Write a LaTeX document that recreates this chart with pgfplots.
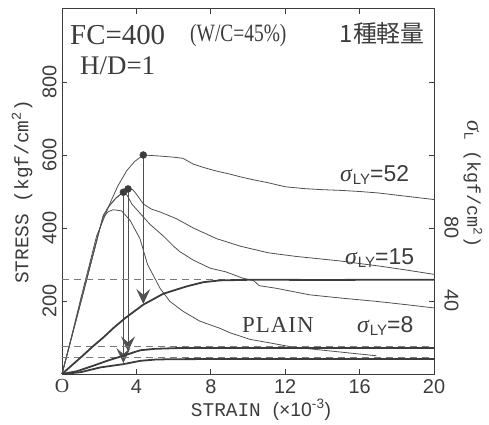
\documentclass[border=0pt]{standalone}
\usepackage{pgfplots}
\pgfplotsset{compat=1.18}
\usepackage{fontspec}
\usepackage{graphicx}
\usetikzlibrary{arrows.meta}
\setmainfont{Liberation Serif}
\newfontfamily\monofont{Liberation Mono}
\newfontfamily\sansfont{Liberation Sans}
\newfontfamily\cjk{Noto Sans CJK JP}
\definecolor{ink}{HTML}{505050}
\definecolor{inkd}{HTML}{3C3C3C}
\definecolor{dashc}{HTML}{7A7A7A}
\newcommand{\siglab}[2]{{\fontsize{24}{24}\selectfont\itshape σ}\kern1bp\raisebox{-3bp}{\sansfont\fontsize{15}{15}\selectfont #1}{\sansfont\fontsize{23}{23}\selectfont =#2}}

\begin{document}
\begin{tikzpicture}
\useasboundingbox (-62bp,-51bp) rectangle (427bp,374bp);
\begin{axis}[
  at={(0,0)}, anchor=south west, scale only axis,
  width=372bp, height=365bp,
  xmin=0, xmax=20, ymin=0, ymax=1000,
  axis line style={inkd, line width=1bp},
  tick align=inside, major tick length=5bp,
  tick style={inkd, line width=0.8bp},
  xtick={0,4,8,12,16,20}, xticklabels={{\rmfamily O},4,8,12,16,20},
  xtick pos=both,
  ytick={200,400,600,800}, ytick pos=left,
  /pgf/number format/assume math mode=true,
  tick label style={font=\sansfont\fontsize{20}{20}\selectfont, text=inkd},
  xticklabel style={yshift=-2bp},
  yticklabel style={rotate=90, anchor=south},
  yticklabel shift=2bp,
  clip=false,
]
% sigma_LY = 52 (thin stress-strain)
\addplot[ink, line width=0.8bp] coordinates {
(0,0)(0.5,100)(1.0,205)(1.5,305)(1.86,378)(2.2,420)(2.6,470)(3.0,515)(3.48,557)(3.9,582)(4.37,600)
(5.3,597)(6.0,594)(6.5,591)(7.06,575)(7.6,566)(8.3,556)(9.0,548)(9.6,540)(10.3,532)(11,525)
(12,513)(13,508)(14,505)(15,503)(16,500)(17,496)(18,490)(19,484)(20,478)};
% sigma_LY = 15
\addplot[ink, line width=0.8bp] coordinates {
(0,0)(1.0,195)(2.0,392)(2.22,434)(2.5,458)(2.9,482)(3.3,498)(3.55,507)(3.8,505)(4.0,493)(4.37,466)
(4.8,452)(5.27,444)(6.17,425)(7.06,400)(8.3,371)(9.6,350)(11.1,332)(12.6,322)(14.9,310)
(17.3,294)(18.5,285)(20,273)};
% sigma_LY = 8
\addplot[ink, line width=0.8bp] coordinates {
(0,0)(1.0,195)(2.0,392)(2.22,434)(2.5,458)(2.9,482)(3.3,498)(3.5,490)(3.75,466)(4.2,440)(4.73,410)
(5.45,378)(6.0,350)(6.34,335)(7.06,312)(7.96,290)(8.8,280)(9.75,262)(10.3,256)(10.6,242)
(11.5,235)(13.3,217)(15,208)(16.9,199)(18.5,190)(20,181)};
% plain
\addplot[ink, line width=0.8bp] coordinates {
(0,0)(1.0,195)(2.0,392)(2.22,430)(2.5,445)(2.76,450)(3.2,447)(3.66,421)(4.19,371)(4.6,300)
(5.27,235)(5.8,199)(6.5,172)(7.4,145)(8.5,125)(9.03,113)(10.1,95)(11.2,85)(12.26,75)
(13.5,68)(15,60)(16.9,50)};
% arrows from peaks to lateral stress curves
\addplot[ink, line width=0.8bp, -{Stealth[length=15bp,width=14bp,inset=6bp]}] coordinates {(4.37,600)(4.37,192)};
\addplot[ink, line width=0.8bp, -{Stealth[length=15bp,width=14bp,inset=6bp]}] coordinates {(3.55,507)(3.55,62)};
\addplot[ink, line width=0.8bp, -{Stealth[length=15bp,width=14bp,inset=6bp]}] coordinates {(3.3,498)(3.3,30)};
% peak dots
\addplot[only marks, mark=*, mark size=3.5bp, inkd] coordinates {(4.37,600)(3.3,498)(3.55,507)};
\end{axis}

\begin{axis}[
  at={(0,0)}, anchor=south west, scale only axis,
  width=372bp, height=365bp,
  xmin=0, xmax=20, ymin=0, ymax=200,
  hide x axis,
  axis y line*=right,
  axis line style={inkd, line width=1bp},
  tick align=inside, major tick length=5bp,
  tick style={inkd, line width=0.8bp},
  ytick={40,80,120,160}, yticklabels={40,80,,},
  /pgf/number format/assume math mode=true,
  tick label style={font=\sansfont\fontsize{20}{20}\selectfont, text=inkd},
  yticklabel style={rotate=-90, anchor=south},
  yticklabel shift=7bp,
  clip=false,
]
% sigma_LY levels (dashed)
\addplot[dashc, line width=0.6bp, dash pattern=on 7bp off 5bp] coordinates {(0,52)(20,52)};
\addplot[dashc, line width=0.6bp, dash pattern=on 7bp off 5bp] coordinates {(0,15.3)(20,15.3)};
\addplot[dashc, line width=0.6bp, dash pattern=on 7bp off 5bp] coordinates {(0,8.9)(20,8.9)};
% lateral stress sigma_L (thick)
\addplot[inkd, line width=1.8bp] coordinates {
(0,0)(0.5,4.5)(1.0,9.0)(1.7,15.5)(2.22,20)(2.8,25.5)(3.38,30.5)(4.37,38)(5.45,44)(6.7,48)(7.6,50.3)
(8.5,51.3)(10,51.6)(12,51.6)(14,51.5)(16,51.6)(18,51.6)(20,51.6)};
\addplot[inkd, line width=1.8bp] coordinates {
(0,0)(0.8,1.5)(1.7,4.6)(2.5,7.5)(3.3,10)(4.2,13)(5,13.8)(6.2,14.2)(8,14.3)(10,14.3)(14,14.3)(20,14.3)};
\addplot[inkd, line width=1.8bp] coordinates {
(0,0)(1,1)(2.06,3.6)(3.3,5.4)(4.2,7.2)(5,7.9)(5.8,8.1)(8,8.2)(12,8.2)(16,8.2)(20,8.2)};
\end{axis}

% texts
\node[anchor=base west, inner sep=0, text=inkd, font=\fontsize{29}{29}\selectfont] at (8bp,329bp) {FC=400};
\node[anchor=base west, inner sep=0, text=inkd, font=\fontsize{25}{25}\selectfont] at (128bp,332bp) {\scalebox{0.78}[1]{(W/C=45\%)}};
\node[anchor=base west, inner sep=0, text=inkd, font=\fontsize{27}{27}\selectfont] at (18bp,299bp) {H/D=1};
\node[anchor=base east, inner sep=0, text=inkd, font=\cjk\fontsize{24}{24}\selectfont] at (363bp,331bp) {1種軽量};
\node[anchor=base west, inner sep=0, text=inkd] at (278bp,192bp) {\siglab{LY}{52}};
\node[anchor=base west, inner sep=0, text=inkd] at (283bp,109bp) {\siglab{LY}{15}};
\node[anchor=base west, inner sep=0, text=inkd] at (295bp,41bp) {\siglab{LY}{8}};
\node[anchor=base west, inner sep=0, text=inkd, font=\fontsize{23}{23}\selectfont] at (180bp,41bp) {P\kern1bp L\kern1bp A\kern1bp I\kern1bp N};
\node[rotate=90, inner sep=0, text=inkd, font=\monofont\fontsize{19.5}{19.5}\selectfont] at (-40bp,182bp) {STRESS (kgf/cm\textsuperscript{2})};
\node[inner sep=0, text=inkd, font=\monofont\fontsize{19.5}{19.5}\selectfont] at (199bp,-36bp) {STRAIN {\sansfont(×10\textsuperscript{-3})}};
\node[rotate=-90, inner sep=0, text=inkd, font=\monofont\fontsize{18.5}{18.5}\selectfont] at (411bp,190bp) {{\rmfamily\itshape\fontsize{23}{23}\selectfont σ}\raisebox{-3bp}{\sansfont\fontsize{13}{13}\selectfont L} (kgf/cm\textsuperscript{2})};
\end{tikzpicture}
\end{document}
